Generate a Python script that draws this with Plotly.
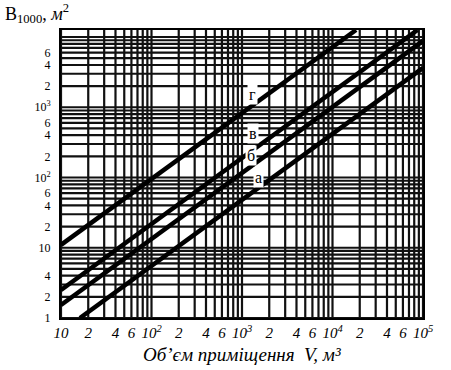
import numpy as np
import plotly.graph_objects as go

# Lines (room types): endpoints on log-log axes
line_names = ["г", "в", "б", "а"]
line_V = [[10, 18200], [10, 87000], [10, 100000], [16.2, 100000]]
line_B = [[11, 12600], [2.5, 12600], [1.53, 8800], [1.0, 3630]]
# label positions (V, B)
label_V = [1290, 1320, 1260, 1510]
label_B = [1500, 420, 203, 100]

# tick values / labels
x_tickvals = [10, 20, 40, 60, 100, 200, 400, 600, 1000, 2000, 4000, 6000,
              10000, 20000, 40000, 60000, 100000]
x_ticktext = ["10", "2", "4", "6", "10<sup>2</sup>", "2", "4", "6", "10<sup>3</sup>",
              "2", "4", "6", "10<sup>4</sup>", "2", "4", "6", "10<sup>5</sup>"]
y_tickvals = [1, 2, 4, 10, 20, 40, 60, 100, 200, 400, 600, 1000, 2000, 4000, 6000]
y_ticktext = ["1", "2", "4", "10", "2", "4", "6", "10<sup>2</sup>", "2", "4", "6",
              "10<sup>3</sup>", "2", "4", "6"]

x_grid = [m * 10 ** e for e in range(1, 5) for m in range(1, 10)] + [100000]
y_grid = [m * 10 ** e for e in range(0, 4) for m in range(1, 10)] + [10000]

fig = go.Figure()

# grid lines drawn as traces from grid values
gx, gy = [], []
for v in x_grid:
    gx += [v, v, None]
    gy += [0.5, 20000, None]
for b in y_grid:
    gx += [5, 200000, None]
    gy += [b, b, None]
fig.add_trace(go.Scatter(x=gx, y=gy, mode="lines",
                         line=dict(color="#111", width=2.2), hoverinfo="skip",
                         showlegend=False))

for n, vs, bs in zip(line_names, line_V, line_B):
    fig.add_trace(go.Scatter(x=vs, y=bs, mode="lines", name=n,
                             line=dict(color="black", width=4.5),
                             showlegend=False))

serif = "Liberation Serif, Times New Roman, serif"

for n, v, b in zip(line_names, label_V, label_B):
    fig.add_annotation(x=np.log10(v), y=np.log10(b), text=n, showarrow=False,
                       font=dict(family=serif, size=16, color="black"),
                       bgcolor="white", borderpad=1)

fig.add_annotation(x=-58 / 362, y=1 + 16 / 288, xref="paper", yref="paper",
                   xanchor="left", yanchor="middle", showarrow=False,
                   text="B<sub>1000</sub>, <i>м</i><sup>2</sup>",
                   font=dict(family=serif, size=18, color="black"))
fig.add_annotation(x=0.5, y=-0.085, xref="paper", yref="paper",
                   xanchor="center", yanchor="top", showarrow=False,
                   text="<i>Об’єм приміщення  V, м³</i>",
                   font=dict(family=serif, size=19, color="black"))

fig.update_xaxes(type="log", range=[1, 5], tickvals=x_tickvals, ticktext=x_ticktext,
                 showgrid=False, zeroline=False, showline=True, linecolor="black",
                 linewidth=2, mirror=True, ticks="",
                 tickfont=dict(family=serif, size=15, color="black", style="italic"))
fig.update_yaxes(type="log", range=[0, 4.1], tickvals=y_tickvals, ticktext=y_ticktext,
                 showgrid=False, zeroline=False, showline=True, linecolor="black",
                 linewidth=2, mirror=True, ticks="", ticklabelstandoff=6,
                 tickfont=dict(family=serif, size=12, color="black"))

fig.update_layout(width=451, height=370, margin=dict(l=61, r=28, t=30, b=52),
                  plot_bgcolor="white", paper_bgcolor="white")

fig.write_html("out.html")
